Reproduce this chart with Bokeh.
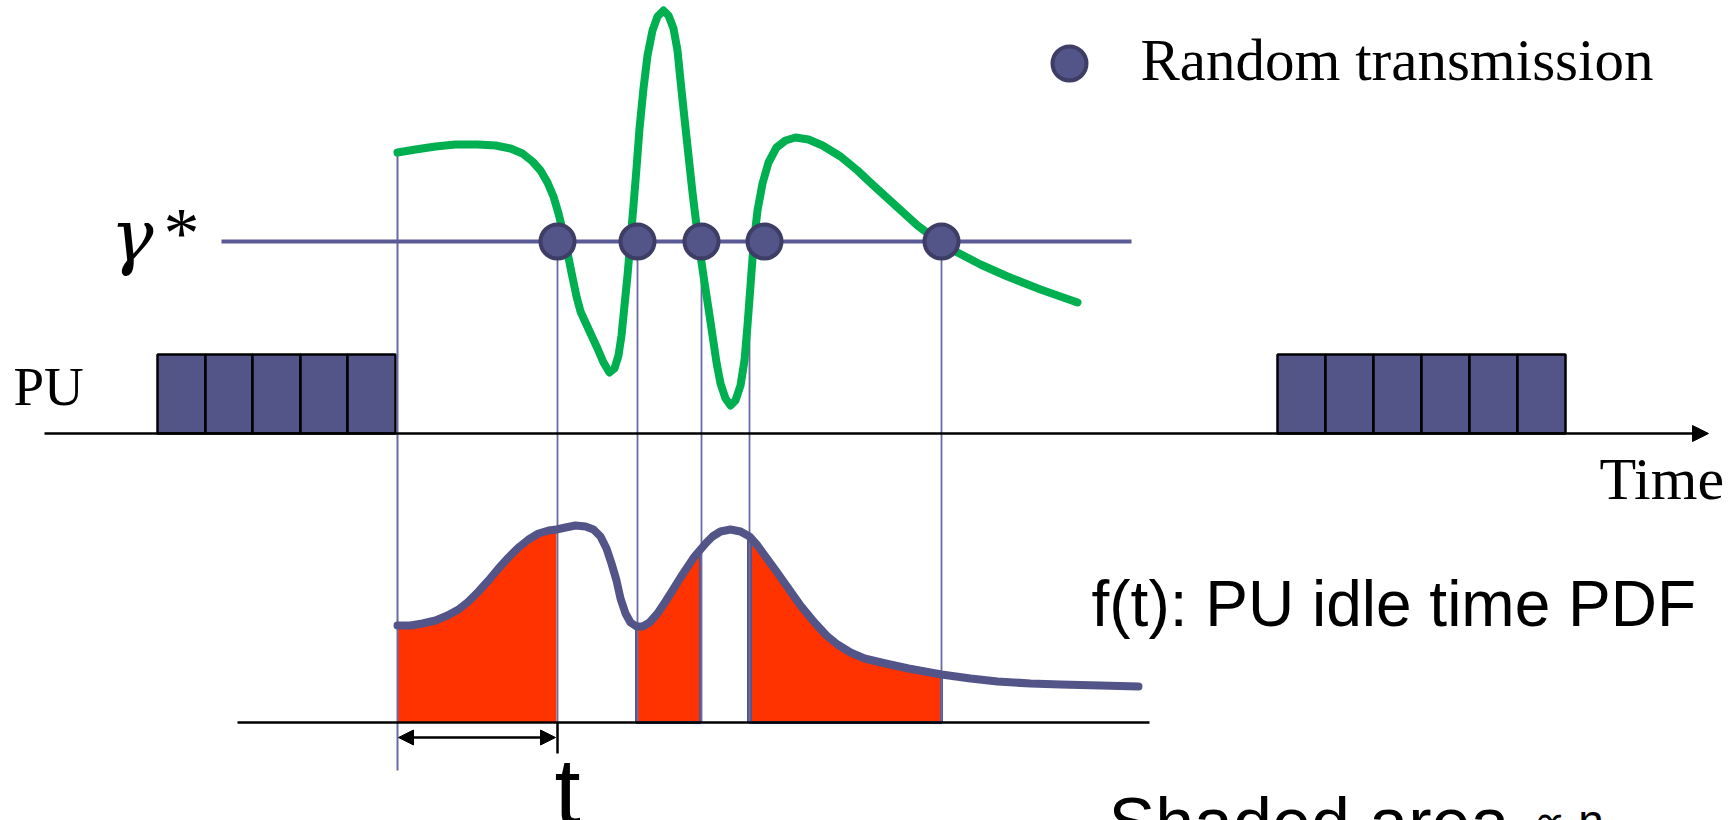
from bokeh.plotting import figure
from bokeh.models import Range1d, Arrow, NormalHead
from bokeh.core.properties import value
from bokeh.embed import file_html
from bokeh.resources import INLINE

# ---- data (page pixel coordinates) ----
# PU busy slots
pu_left_edges = [157, 205, 252, 300, 347, 395]
pu_right_edges = [1277, 1325, 1373, 1421, 1469, 1517, 1565]
pu_top = 354
time_axis_y = 433

# threshold gamma*
gamma_y = 241
gamma_x = [221, 1131]

# green (sensed) curve
green_x = [397, 415, 435, 455, 477, 495, 510, 522, 532, 540, 547, 553, 558, 563, 567, 571,
           576, 580, 585, 591, 597, 603, 609, 614, 618, 621, 624, 627, 630, 633, 636, 639,
           643, 647, 652, 657, 663, 668, 673, 677, 680, 684, 688, 692, 696, 700, 704, 708,
           712, 716, 720, 725, 730, 735, 740, 744, 747, 750, 753, 757, 762, 768, 776, 785,
           795, 808, 822, 840, 857, 873, 895, 917, 937, 957, 980, 1007, 1040, 1077]
green_y = [152, 149, 146, 144, 144, 145, 148, 153, 161, 170, 182, 196, 213, 233, 252, 272,
           296, 311, 322, 335, 348, 362, 372, 368, 355, 335, 305, 275, 240, 205, 168, 128,
           88, 55, 30, 16, 10, 15, 28, 50, 80, 118, 155, 192, 225, 255, 282, 308,
           335, 362, 383, 398, 405, 400, 385, 360, 325, 285, 245, 210, 183, 162, 147, 140,
           137, 139, 145, 156, 170, 185, 205, 225, 240, 252, 264, 276, 289, 302]

# random transmission points on gamma*
tx_x = [557, 637, 701, 764, 941]
# vertical drop lines (x, top y)
drop_x = [557, 637, 701, 749, 941]
drop_top = [240, 240, 240, 275, 240]
start_x = 397

# PDF f(t)
pdf_base_y = 722
pdf_x = [397, 410, 422, 435, 447, 458, 468, 478, 488, 498, 508, 518, 528, 538, 548, 556,
         565, 575, 585, 593, 600, 606, 611, 616, 620, 625, 630, 636, 642, 649, 657, 665,
         672, 680, 688, 694, 700, 706, 712, 720, 730, 740, 749, 757, 765, 776, 788, 800,
         814, 826, 837, 850, 864, 885, 908, 941, 970, 997, 1030, 1060, 1100, 1138]
pdf_y = [625, 625, 623, 620, 615, 609, 601, 591, 580, 568, 557, 547, 539, 533, 530, 529,
         527, 525, 526, 529, 536, 548, 563, 580, 598, 613, 622, 626, 626, 622, 613, 601,
         590, 577, 565, 556, 549, 542, 536, 531, 529, 531, 536, 545, 556, 571, 588, 605,
         622, 635, 644, 652, 658, 663, 668, 674, 678, 681, 683, 684, 685, 686]
# shaded intervals (x bounds)
shade_bounds = [(397, 556), (636, 700), (749, 941)]

BLUE = "#535488"
DOT_LINE = "#3d3d66"
VLINE = "#6a6aa6"
GREEN = "#00b050"
RED = "#ff3300"

p = figure(width=1736, height=820, x_range=Range1d(0, 1736), y_range=Range1d(820, 0),
           output_backend="svg", toolbar_location=None,
           x_axis_location=None, y_axis_location=None,
           min_border=0, min_border_left=0, min_border_right=0,
           min_border_top=0, min_border_bottom=0)
p.xgrid.visible = False
p.ygrid.visible = False
p.outline_line_color = None
p.background_fill_color = "white"
p.border_fill_color = "white"

# time axis with arrow
p.add_layout(Arrow(end=NormalHead(size=16, fill_color="black", line_color="black"),
                   x_start=44, y_start=time_axis_y, x_end=1708, y_end=time_axis_y,
                   line_color="black", line_width=2.5))

# PU blocks
p.quad(left=pu_left_edges[:-1], right=pu_left_edges[1:], top=pu_top, bottom=time_axis_y,
       fill_color=BLUE, line_color="black", line_width=2.5)
p.quad(left=pu_right_edges[:-1], right=pu_right_edges[1:], top=pu_top, bottom=time_axis_y,
       fill_color=BLUE, line_color="black", line_width=2.5)

# shaded areas under the PDF
for lo, hi in shade_bounds:
    xs = [x for x in pdf_x if lo <= x <= hi]
    ys = [y for x, y in zip(pdf_x, pdf_y) if lo <= x <= hi]
    p.varea(x=xs, y1=[pdf_base_y] * len(xs), y2=ys, fill_color=RED)

# outlines of 2nd and 3rd shaded areas
for lo, hi in shade_bounds[1:]:
    p.line([lo, lo, hi, hi], [pdf_y[pdf_x.index(lo)], pdf_base_y, pdf_base_y, pdf_y[pdf_x.index(hi)]],
           line_color=BLUE, line_width=3)
p.line([749, 749], [536, pdf_base_y], line_color=BLUE, line_width=5)

# vertical lines
p.line([start_x, start_x], [green_y[0], 770], line_color=VLINE, line_width=2)
for x, top in zip(drop_x, drop_top):
    p.line([x, x], [top, pdf_base_y], line_color=VLINE, line_width=1.8)

# gamma* line
p.line(gamma_x, [gamma_y, gamma_y], line_color="#5a5a96", line_width=4)

# green curve
p.line(green_x, green_y, line_color=GREEN, line_width=8, line_join="round", line_cap="round")

# transmission dots
p.scatter(tx_x, [gamma_y] * len(tx_x), size=34, fill_color=BLUE, line_color=DOT_LINE, line_width=4)

# PDF baseline and curve
p.line([237, 1149], [pdf_base_y, pdf_base_y], line_color="black", line_width=2.5)
p.line(pdf_x, pdf_y, line_color=BLUE, line_width=8, line_join="round", line_cap="round")

# t arrow
p.add_layout(Arrow(start=NormalHead(size=15, fill_color="black", line_color="black"),
                   end=NormalHead(size=15, fill_color="black", line_color="black"),
                   x_start=398, y_start=737, x_end=555, y_end=737,
                   line_color="black", line_width=2.5))
p.line([557, 557], [pdf_base_y, 753], line_color="black", line_width=2.5)

# legend
p.scatter([1069], [63], size=34, fill_color=BLUE, line_color=DOT_LINE, line_width=4)
serif = value("Liberation Serif")
sans = value("Liberation Sans")
p.text(x=[1140], y=[59], text=["Random transmission"], text_font=serif,
       text_font_size="59px", text_baseline="alphabetic", text_color="black")

# labels
p.text(x=[110], y=[235], text=["γ"], text_font=value("DejaVu Serif"), text_font_style="italic",
       text_font_size="72px", text_baseline="alphabetic", text_color="black")
p.text(x=[163], y=[232], text=["*"], text_font=serif,
       text_font_size="72px", text_baseline="alphabetic", text_color="black")
p.text(x=[13], y=[386], text=["PU"], text_font=serif,
       text_font_size="55px", text_baseline="alphabetic", text_color="black")
p.text(x=[1599], y=[478], text=["Time"], text_font=serif,
       text_font_size="60px", text_baseline="alphabetic", text_color="black")
p.text(x=[1091], y=[603], text=["f(t): PU idle time PDF"], text_font=sans,
       text_font_size="64px", text_baseline="alphabetic", text_color="black")
p.text(x=[554], y=[791], text=["t"], text_font=sans,
       text_font_size="94px", text_baseline="alphabetic", text_color="black")
p.text(x=[1108], y=[822], text=["Shaded area"], text_font=sans,
       text_font_size="70px", text_baseline="alphabetic", text_color="black")
p.text(x=[1532], y=[820], text=["∝  n"], text_font=sans,
       text_font_size="46px", text_baseline="alphabetic", text_color="black")

open("out.html", "w").write(file_html(p, INLINE))
